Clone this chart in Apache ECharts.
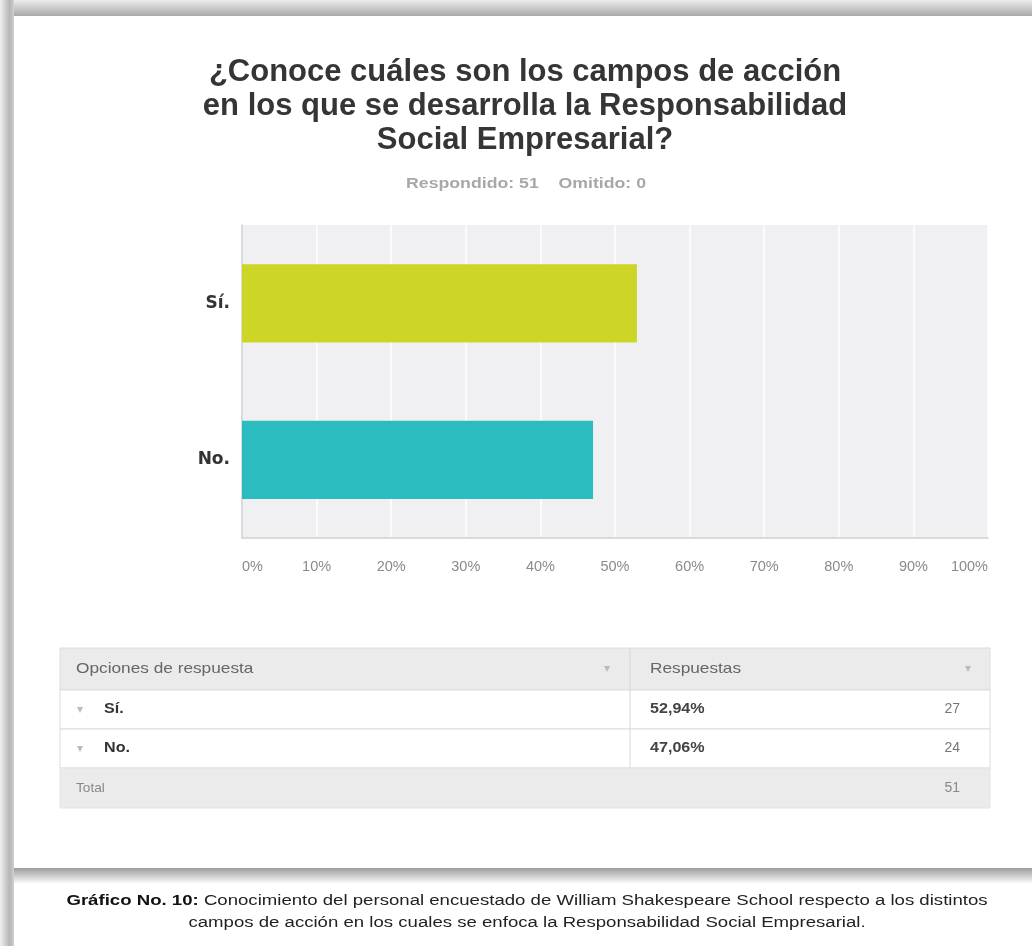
<!DOCTYPE html>
<html>
<head>
<meta charset="utf-8">
<script src="https://cdn.jsdelivr.net/npm/echarts@6/dist/echarts.min.js"></script>
<style>
  html, body { margin: 0; padding: 0; background: #fff; }
  #main { width: 1032px; height: 946px; }
</style>
</head>
<body>
<div id="main"></div>
<script>
// datos de la encuesta
var categories = ["Sí.", "No."];
var percentages = [52.94, 47.06];
var counts = [27, 24];
var answered = 51;
var omitted = 0;
var barColors = ["#cdd526", "#2bbcbf"];

var titleLines = [
  "¿Conoce cuáles son los campos de acción",
  "en los que se desarrolla la Responsabilidad",
  "Social Empresarial?"
];
var captionBold = "Gráfico No. 10:";
var captionRest = " Conocimiento del personal encuestado de William Shakespeare School respecto a los distintos";
var captionLine2 = "campos de acción en los cuales se enfoca la Responsabilidad Social Empresarial.";

function fmtPct(v) {
  return v.toFixed(2).replace(".", ",") + "%";
}

var font = "'Liberation Sans', Arial, sans-serif";
var wideFont = "'DejaVu Sans', Verdana, sans-serif";
var myChart = echarts.init(document.getElementById("main"));

// tabla de respuestas
var tableX = 60, tableW = 930, colX = 630;
var headerY = 648, headerH = 42, rowH = 39;
var tableEls = [];
function txt(x, y, s, f, fill, align, sx) {
  return {
    type: "text", x: x, y: y, scaleX: sx || 1,
    style: { x: 0, y: 0, text: s, font: f, fill: fill, align: align || "left", verticalAlign: "middle" }
  };
}
tableEls.push({ type: "rect", shape: { x: tableX, y: headerY, width: tableW, height: headerH }, style: { fill: "#ebebeb", stroke: "#dcdcdc" } });
tableEls.push(txt(76, headerY + headerH / 2, "Opciones de respuesta", "15px " + font, "#666", "left", 1.15));
tableEls.push(txt(607, headerY + headerH / 2, "▾", "12px " + font, "#bbb", "center"));
tableEls.push(txt(650, headerY + headerH / 2, "Respuestas", "15px " + font, "#666", "left", 1.15));
tableEls.push(txt(968, headerY + headerH / 2, "▾", "12px " + font, "#bbb", "center"));
categories.forEach(function (c, i) {
  var y = headerY + headerH + i * rowH;
  tableEls.push({ type: "rect", shape: { x: tableX, y: y, width: tableW, height: rowH }, style: { fill: "#fff", stroke: "#dcdcdc" } });
  tableEls.push(txt(80, y + rowH / 2, "▾", "12px " + font, "#bbb", "center"));
  tableEls.push(txt(104, y + rowH / 2, c, "bold 14px " + font, "#333", "left", 1.15));
  tableEls.push(txt(650, y + rowH / 2, fmtPct(percentages[i]), "bold 14px " + font, "#444", "left", 1.15));
  tableEls.push(txt(960, y + rowH / 2, String(counts[i]), "14px " + font, "#777", "right"));
});
var totalY = headerY + headerH + categories.length * rowH;
tableEls.push({ type: "line", shape: { x1: colX, y1: headerY, x2: colX, y2: totalY }, style: { stroke: "#d6d6d6", lineWidth: 1 } });
tableEls.push({ type: "rect", shape: { x: tableX, y: totalY, width: tableW, height: 40 }, style: { fill: "#ebebeb", stroke: "#e2e2e2" } });
tableEls.push(txt(76, totalY + 20, "Total", "13px " + font, "#888", "left", 1.05));
tableEls.push(txt(960, totalY + 20, String(answered), "14px " + font, "#888", "right"));

// marco con sombra
var frameEls = [
  { type: "rect", shape: { x: 0, y: 0, width: 1032, height: 16 }, style: { fill: new echarts.graphic.LinearGradient(0, 0, 0, 1, [{ offset: 0, color: "#ececec" }, { offset: 1, color: "#a9a9a9" }]) } },
  { type: "rect", shape: { x: 0, y: 0, width: 14, height: 946 }, style: { fill: new echarts.graphic.LinearGradient(0, 0, 1, 0, [{ offset: 0, color: "#f0f0f0" }, { offset: 0.7, color: "#b5b5b5" }, { offset: 1, color: "#d0d0d0" }]) } },
  { type: "rect", shape: { x: 14, y: 868, width: 1018, height: 16 }, style: { fill: new echarts.graphic.LinearGradient(0, 0, 0, 1, [{ offset: 0, color: "#9c9c9c" }, { offset: 1, color: "#ffffff" }]) } },
  { type: "rect", shape: { x: 14, y: 884, width: 1018, height: 62 }, style: { fill: "#fff" } }
];

var captionEls = [
  {
    type: "text", x: 527, y: 901, scaleX: 1.2,
    style: {
      x: 0, y: 0, align: "center", verticalAlign: "middle",
      text: "{b|" + captionBold + "}{n|" + captionRest + "}",
      rich: {
        b: { font: "bold 15.5px " + font, fill: "#111" },
        n: { font: "15.5px " + font, fill: "#222" }
      }
    }
  },
  txt(527, 923, captionLine2, "15.5px " + font, "#222", "center", 1.2)
];

// título y subtítulo
var headEls = [
  {
    type: "text", x: 525, y: 55,
    style: {
      x: 0, y: 0, align: "center", verticalAlign: "top",
      text: titleLines.join("\n"), font: "bold 31px " + font, fill: "#353535", lineHeight: 34
    }
  },
  txt(526, 184, "Respondido: " + answered + "    Omitido: " + omitted, "bold 15px " + font, "#a8a8a8", "center", 1.18)
];

var option = {
  backgroundColor: "#fff",
  grid: {
    left: 242, right: 44, top: 225, bottom: 408,
    show: true, backgroundColor: "#f0f0f2", borderWidth: 0
  },
  xAxis: {
    type: "value", min: 0, max: 100, interval: 10,
    axisLine: { show: true, lineStyle: { color: "#dadada", width: 2 } },
    axisTick: { show: false },
    splitLine: { show: true, lineStyle: { color: "#ffffff", width: 1.5 } },
    axisLabel: {
      formatter: "{value}%", color: "#8a8a8a", fontFamily: font, fontSize: 14.5, margin: 21,
      alignMinLabel: "left", alignMaxLabel: "right"
    }
  },
  yAxis: {
    type: "category", data: categories, inverse: true,
    axisLine: { show: true, lineStyle: { color: "#cfcfcf", width: 1.5 } },
    axisTick: { show: false },
    axisLabel: { color: "#333", fontFamily: wideFont, fontSize: 17, fontWeight: "bold", margin: 12 }
  },
  series: [
    {
      type: "bar",
      data: percentages.map(function (v, i) {
        return { value: v, itemStyle: { color: barColors[i] } };
      }),
      barWidth: "50%",
      silent: true
    }
  ],
  graphic: frameEls.concat(headEls, tableEls, captionEls)
};
myChart.setOption(option);
</script>
</body>
</html>
